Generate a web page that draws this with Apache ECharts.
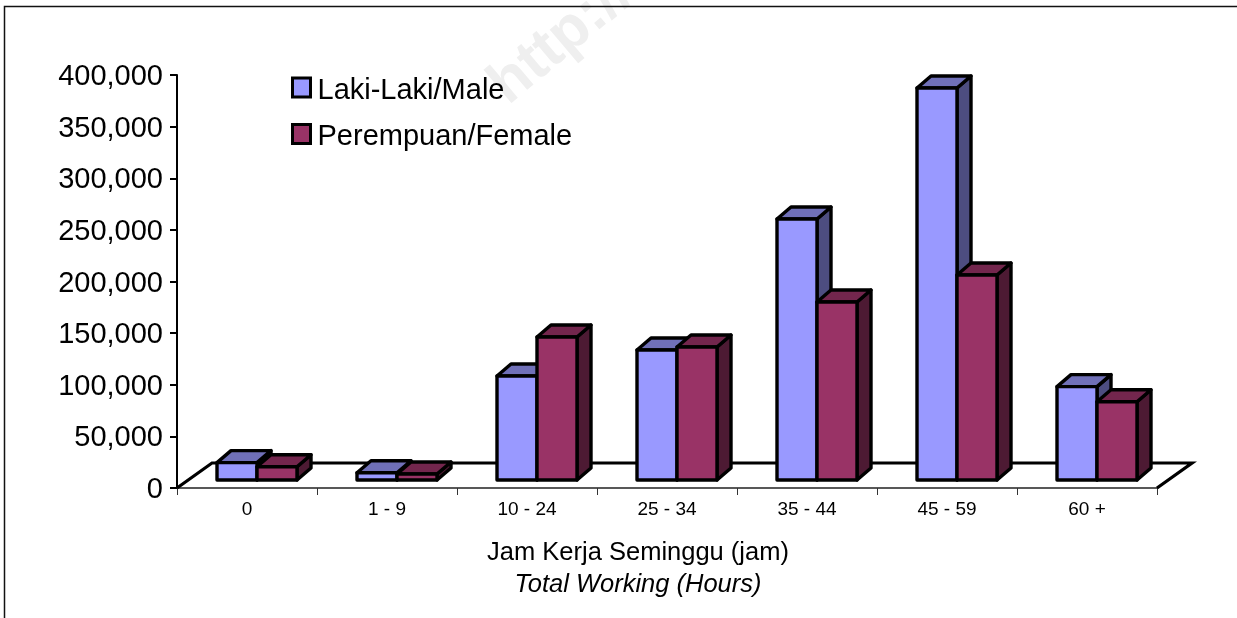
<!DOCTYPE html>
<html>
<head>
<meta charset="utf-8">
<style>
  html, body { margin: 0; padding: 0; background: #fff; }
  #main { width: 1237px; height: 618px; }
</style>
<script src="https://cdn.jsdelivr.net/npm/echarts@6/dist/echarts.min.js"></script>
</head>
<body>
<div id="main"></div>
<script>
var categories = ['0', '1 - 9', '10 - 24', '25 - 34', '35 - 44', '45 - 59', '60 +'];
var maleValues = [16800, 7000, 100700, 125900, 252800, 379700, 90400];
var femaleValues = [12900, 5800, 138500, 128800, 172400, 198500, 75800];
var maleName = 'Laki-Laki/Male';
var femaleName = 'Perempuan/Female';
var xTitle = 'Jam Kerja Seminggu (jam)';
var xSubtitle = 'Total Working (Hours)';

var fontName = '"Liberation Sans", Arial, sans-serif';
var myChart = echarts.init(document.getElementById('main'), null, { renderer: 'canvas' });

// 3D look of the old spreadsheet chart: every bar is front + top + side
var floorDx = 35, floorDy = 25;   // floor depth
var baseDy = 8;                   // bars stand a little behind the front edge
var depthDx = 14, depthDy = 12;   // bar depth

function bar3d(isFemale, front, top, side) {
    return function (params, api) {
        var band = api.size([1, 0])[0];
        var w = band * 40 / 140;
        var p = api.coord([api.value(0), api.value(1)]);
        var zero = api.coord([api.value(0), 0]);
        var x0 = p[0] - band / 2 + w + (isFemale ? w : 0);
        var x1 = x0 + w;
        var yb = zero[1] - baseDy;
        var yt = p[1] - baseDy;
        var line = { stroke: '#000', lineWidth: 3.4, lineJoin: 'round' };
        return {
            type: 'group',
            children: [
                { type: 'polygon', shape: { points: [[x1, yt], [x1 + depthDx, yt - depthDy], [x1 + depthDx, yb - depthDy], [x1, yb]] },
                  style: Object.assign({ fill: side }, line) },
                { type: 'polygon', shape: { points: [[x0, yt], [x0 + depthDx, yt - depthDy], [x1 + depthDx, yt - depthDy], [x1, yt]] },
                  style: Object.assign({ fill: top }, line) },
                { type: 'rect', shape: { x: x0, y: yt, width: w, height: yb - yt },
                  style: Object.assign({ fill: front }, line) }
            ]
        };
    };
}

function toData(values) {
    return values.map(function (v, i) { return [i, v]; });
}

var option = {
    backgroundColor: '#fff',
    animation: false,
    textStyle: { fontFamily: fontName },
    grid: { left: 177, right: 80, top: 75, bottom: 130, containLabel: false },
    legend: {
        orient: 'vertical',
        left: 291,
        top: 76,
        padding: 0,
        itemWidth: 18,
        itemHeight: 19,
        itemGap: 17.5,
        icon: 'rect',
        selectedMode: false,
        formatter: '{a|{name}}',
        textStyle: {
            rich: { a: { fontSize: 29, color: '#000', fontFamily: fontName, padding: [6, 0, 0, 2] } }
        },
        data: [
            { name: maleName, itemStyle: { color: '#9999FF', borderColor: '#000', borderWidth: 3 } },
            { name: femaleName, itemStyle: { color: '#993366', borderColor: '#000', borderWidth: 3 } }
        ]
    },
    xAxis: {
        type: 'category',
        data: categories,
        boundaryGap: true,
        axisLine: { lineStyle: { color: '#222', width: 1.5 } },
        axisTick: { show: true, alignWithLabel: false, length: 7, lineStyle: { color: '#333', width: 1 } },
        axisLabel: { fontSize: 19, color: '#000', margin: 12, fontFamily: fontName, interval: 0 },
        splitLine: { show: false }
    },
    yAxis: {
        type: 'value',
        min: 0,
        max: 400000,
        interval: 50000,
        axisLine: { show: true, lineStyle: { color: '#000', width: 2 } },
        axisTick: { show: true, length: 7, lineStyle: { color: '#000', width: 2 } },
        axisLabel: {
            margin: 14,
            rich: { a: { fontSize: 29, color: '#000', fontFamily: fontName, padding: [4, 0, 0, 0] } },
            formatter: function (v) { return '{a|' + v.toLocaleString('en-US') + '}'; }
        },
        splitLine: { show: false }
    },
    series: [
        {
            // floor of the 3D box
            type: 'custom',
            silent: true,
            z: 1,
            data: [[0, 0]],
            renderItem: function (params, api) {
                var cs = params.coordSys;
                var xl = cs.x, xr = cs.x + cs.width, yb = cs.y + cs.height;
                return {
                    type: 'polyline',
                    shape: { points: [[xl, yb], [xl + floorDx, yb - floorDy], [xr + floorDx, yb - floorDy], [xr, yb]] },
                    style: { stroke: '#000', lineWidth: 3.2, fill: null }
                };
            }
        },
        {
            name: maleName,
            type: 'custom',
            z: 2,
            silent: true,
            itemStyle: { color: '#9999FF' },
            renderItem: bar3d(false, '#9999FF', '#7070B8', '#4D4D80'),
            encode: { x: 0, y: 1 },
            data: toData(maleValues)
        },
        {
            name: femaleName,
            type: 'custom',
            z: 3,
            silent: true,
            itemStyle: { color: '#993366' },
            renderItem: bar3d(true, '#993366', '#73264D', '#4D1A33'),
            encode: { x: 0, y: 1 },
            data: toData(femaleValues)
        }
    ],
    graphic: [
        // watermark of the source document, sits behind everything
        { type: 'text', silent: true, z: -10, x: 517, y: 116, rotation: Math.PI * 40 / 180, style: { text: 'http://', fill: '#efefef', font: 'bold 60px ' + fontName, textAlign: 'left', textVerticalAlign: 'bottom' } },
        // page frame, it runs off the picture on the right and at the bottom
        { type: 'polyline', silent: true, z: 0, shape: { points: [[4.5, 618], [4.5, 6.5], [1237, 6.5]] }, style: { stroke: '#111', lineWidth: 1.5, fill: null } },
        { type: 'text', silent: true, x: 638, y: 553, style: { text: xTitle, fill: '#000', font: '25.5px ' + fontName, textAlign: 'center', textVerticalAlign: 'middle' } },
        { type: 'text', silent: true, x: 638, y: 585, style: { text: xSubtitle, fill: '#000', font: 'italic 25.5px ' + fontName, textAlign: 'center', textVerticalAlign: 'middle' } }
    ]
};

myChart.setOption(option);
</script>
</body>
</html>
